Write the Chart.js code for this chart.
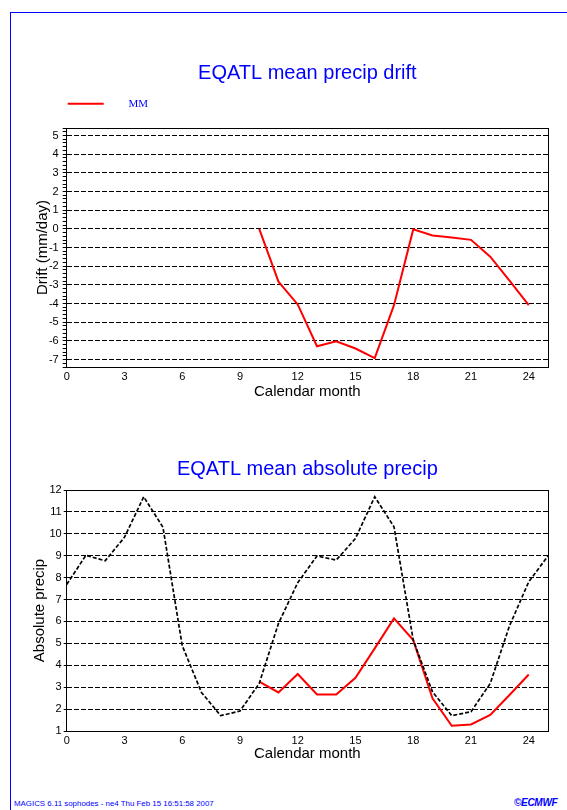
<!DOCTYPE html>
<html lang="en">
<head>
    <meta charset="UTF-8">
    <title>EQATL mean precip drift</title>
    <script src="https://cdn.jsdelivr.net/npm/chart.js"></script>
    <style>
        body {
            margin: 0;
            background: #fff;
            width: 567px;
            height: 810px;
            position: relative;
            overflow: hidden;
        }
        .frame {
            position: absolute;
            left: 10px;
            top: 12px;
            width: 600px;
            height: 820px;
            border-left: 1px solid #0000ff;
            border-top: 1px solid #0000ff;
        }
        canvas {
            position: absolute;
            left: 0;
        }
        #drift-chart { top: 40px; }
        #abs-chart { top: 430px; }
        .footer {
            position: absolute;
            top: 799px;
            left: 14px;
            font: 7.9px "Liberation Sans", sans-serif;
            color: #0000ff;
            white-space: nowrap;
        }
        .logo {
            position: absolute;
            top: 797px;
            left: 514px;
            font: bold italic 10px "Liberation Sans", sans-serif;
            color: #0000ff;
            letter-spacing: -0.3px;
        }
    </style>
</head>
<body>
    <div class="frame"></div>
    <canvas id="drift-chart" width="567" height="380"></canvas>
    <canvas id="abs-chart" width="567" height="360"></canvas>
    <div class="footer">MAGICS 6.11 sophodes - ne4 Thu Feb 15 16:51:58 2007</div>
    <div class="logo">&copy;ECMWF</div>

    <script>
        // drift of the model (MM), months 10..24
        const driftMonths = [10, 11, 12, 13, 14, 15, 16, 17, 18, 19, 20, 21, 22, 23, 24];
        const driftMM = [0, -2.83, -4.05, -6.29, -6.02, -6.41, -6.92, -4.09, -0.03, -0.36, -0.47, -0.59, -1.49, -2.78, -4.09];

        // absolute precip: reference climatology (black dashed), months 0..25
        const absMonths = [0, 1, 2, 3, 4, 5, 6, 7, 8, 9, 10, 11, 12, 13, 14, 15, 16, 17, 18, 19, 20, 21, 22, 23, 24, 25];
        const absRef = [7.69, 9.02, 8.77, 9.84, 11.69, 10.3, 4.9, 2.76, 1.7, 1.91, 3.17, 5.91, 7.77, 8.99, 8.8, 9.79, 11.69, 10.32, 5.15, 2.79, 1.7, 1.88, 3.17, 5.8, 7.81, 8.99];

        // absolute precip of the model (red), months 10..24
        const mmMonths = [10, 11, 12, 13, 14, 15, 16, 17, 18, 19, 20, 21, 22, 23, 24];
        const mmAbs = [3.25, 2.76, 3.6, 2.67, 2.67, 3.43, 4.77, 6.14, 5.15, 2.49, 1.24, 1.3, 1.73, 2.64, 3.58];

        const xTicks = [0, 3, 6, 9, 12, 15, 18, 21, 24];
        const driftTicks = [-7, -6, -5, -4, -3, -2, -1, 0, 1, 2, 3, 4, 5];
        const absTicks = [1, 2, 3, 4, 5, 6, 7, 8, 9, 10, 11, 12];

        const FONT = '"Liberation Sans", Arial, sans-serif';
        const toPoints = (xs, ys) => xs.map((x, i) => ({x: x, y: ys[i]}));
        const isInt = v => Math.abs(v - Math.round(v)) < 1e-6;

        Chart.defaults.font.family = FONT;
        Chart.defaults.color = '#000';

        function xScale(titlePad, height) {
            return {
                type: 'linear',
                position: 'bottom',
                min: 0,
                max: 25,
                afterBuildTicks: s => { s.ticks = xTicks.map(v => ({value: v})); },
                ticks: {
                    autoSkip: false,
                    maxRotation: 0,
                    padding: 3.4,
                    font: {size: 11},
                    callback: v => String(v)
                },
                grid: {drawOnChartArea: false, drawTicks: false},
                border: {color: '#000', width: 1},
                title: {
                    display: true,
                    text: 'Calendar month',
                    font: {size: 15},
                    padding: {top: 0, bottom: titlePad}
                },
                afterFit: s => { s.height = height; }
            };
        }

        // top and right edges of the plot frame
        function frameScales(topHeight) {
            return {
                xTop: {
                    type: 'linear', position: 'top', min: 0, max: 25,
                    ticks: {display: false},
                    grid: {drawOnChartArea: false, drawTicks: false},
                    border: {color: '#000', width: 1},
                    afterFit: s => { s.height = topHeight; }
                },
                yRight: {
                    type: 'linear', position: 'right', min: 0, max: 1,
                    ticks: {display: false},
                    grid: {drawOnChartArea: false, drawTicks: false},
                    border: {color: '#000', width: 1},
                    afterFit: s => { s.width = 0; }
                }
            };
        }

        new Chart(document.getElementById('drift-chart'), {
            type: 'line',
            data: {
                datasets: [{
                    label: 'MM',
                    data: toPoints(driftMonths, driftMM),
                    borderColor: '#ff0000',
                    backgroundColor: '#ff0000',
                    borderWidth: 2,
                    pointRadius: 0,
                    tension: 0
                }]
            },
            options: {
                responsive: false,
                animation: false,
                devicePixelRatio: 1,
                layout: {padding: {left: 0, right: 19, top: 0, bottom: 0}},
                plugins: {
                    title: {
                        display: true,
                        fullSize: false,
                        text: 'EQATL mean precip drift',
                        color: '#0000ff',
                        font: {size: 20, weight: 'normal'},
                        padding: {top: 21, bottom: 12.2}
                    },
                    legend: {
                        display: true,
                        fullSize: false,
                        align: 'start',
                        labels: {
                            padding: 1,
                            boxWidth: 36,
                            boxHeight: 2,
                            color: '#0000ff',
                            font: {family: '"Liberation Serif", "Times New Roman", serif', size: 11},
                            generateLabels: chart => chart.data.datasets.map((ds, i) => ({
                                text: '\u2003\u2002\u2005' + ds.label,
                                fillStyle: ds.borderColor,
                                strokeStyle: ds.borderColor,
                                lineWidth: 0,
                                fontColor: '#0000ff',
                                hidden: false,
                                datasetIndex: i
                            }))
                        }
                    },
                    tooltip: {enabled: false}
                },
                scales: Object.assign({
                    x: xScale(19, 53),
                    y: {
                        type: 'linear',
                        position: 'left',
                        min: -7.4,
                        max: 5.4,
                        ticks: {
                            stepSize: 0.2,
                            autoSkip: false,
                            padding: 4,
                            font: {size: 11},
                            callback: v => isInt(v) && driftTicks.includes(Math.round(v)) ? String(Math.round(v)) : ''
                        },
                        grid: {
                            color: c => isInt(c.tick.value) ? '#000' : 'rgba(0,0,0,0)',
                            tickColor: '#000',
                            tickLength: 4,
                            tickBorderDash: [],
                            lineWidth: 1
                        },
                        border: {color: '#000', width: 1, dash: [5, 2]},
                        title: {
                            display: true,
                            text: 'Drift (mm/day)',
                            font: {size: 15},
                            padding: {top: 34, bottom: 0}
                        },
                        afterFit: s => { s.width = 66.7; }
                    }
                }, frameScales(8.8))
            }
        });

        new Chart(document.getElementById('abs-chart'), {
            type: 'line',
            data: {
                datasets: [{
                    label: 'Reference',
                    data: toPoints(absMonths, absRef),
                    borderColor: '#000',
                    borderWidth: 1.7,
                    borderDash: [4, 2],
                    pointRadius: 0,
                    tension: 0
                }, {
                    label: 'MM',
                    data: toPoints(mmMonths, mmAbs),
                    borderColor: '#ff0000',
                    borderWidth: 2,
                    pointRadius: 0,
                    tension: 0
                }]
            },
            options: {
                responsive: false,
                animation: false,
                devicePixelRatio: 1,
                layout: {padding: {left: 0, right: 19, top: 0, bottom: 0}},
                plugins: {
                    title: {
                        display: true,
                        fullSize: false,
                        text: 'EQATL mean absolute precip',
                        color: '#0000ff',
                        font: {size: 20, weight: 'normal'},
                        padding: {top: 27, bottom: 9}
                    },
                    legend: {display: false},
                    tooltip: {enabled: false}
                },
                scales: Object.assign({
                    x: xScale(27, 59),
                    y: {
                        type: 'linear',
                        position: 'left',
                        min: 1,
                        max: 12,
                        afterBuildTicks: s => { s.ticks = absTicks.map(v => ({value: v})); },
                        ticks: {
                            autoSkip: false,
                            padding: 2,
                            font: {size: 11},
                            callback: v => String(v)
                        },
                        grid: {
                            color: c => (c.tick.value > 1 && c.tick.value < 12) ? '#000' : 'rgba(0,0,0,0)',
                            tickColor: '#000',
                            tickLength: 3,
                            tickBorderDash: [],
                            lineWidth: 1
                        },
                        border: {color: '#000', width: 1, dash: [5, 2]},
                        title: {
                            display: true,
                            text: 'Absolute precip',
                            font: {size: 15},
                            padding: {top: 31, bottom: 0}
                        },
                        afterFit: s => { s.width = 66.7; }
                    }
                }, frameScales(0))
            }
        });
    </script>
</body>
</html>
